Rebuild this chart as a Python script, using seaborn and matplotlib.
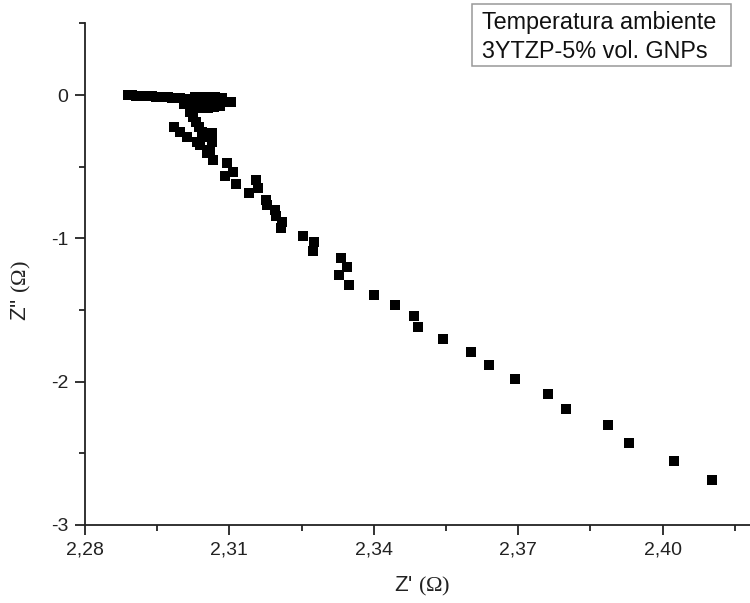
import matplotlib
matplotlib.use("Agg")
import matplotlib.pyplot as plt
import seaborn as sns
import pandas as pd
from matplotlib.patches import Rectangle

# ---- data ----
z_real = [
    # dense band near Z''=0
    2.2889, 2.2898, 2.2906, 2.2914, 2.2922, 2.2931, 2.2939, 2.2947, 2.2956, 2.2964,
    2.2972, 2.2981, 2.2989, 2.2997, 2.3006, 2.3014, 2.3022, 2.3030, 2.3039, 2.3047,
    2.3055, 2.3064, 2.3072, 2.3080, 2.3089, 2.3097, 2.3103,
    2.3028, 2.3049, 2.3070, 2.3084,
    2.3006, 2.3018, 2.3030, 2.3043, 2.3055, 2.3068, 2.3080,
    # column going down
    2.3018, 2.3024, 2.3030, 2.3037, 2.3043, 2.3049, 2.3039,
    2.2985, 2.2997, 2.3012, 2.3033,
    2.3064, 2.3064, 2.3059,
    # descending arm
    2.3053, 2.3066, 2.3094, 2.3108, 2.3091, 2.3113, 2.3156, 2.3160, 2.3140, 2.3176,
    2.3178, 2.3194, 2.3197, 2.3210, 2.3208, 2.3253, 2.3276, 2.3273,
    2.3331, 2.3345, 2.3328, 2.3348, 2.3401, 2.3443, 2.3483, 2.3491, 2.3544, 2.3601,
    2.3639, 2.3693, 2.3761, 2.3799, 2.3887, 2.3929, 2.4023, 2.4102,
]
z_imag = [
    0.0000, 0.0000, -0.0035, -0.0035, -0.0070, -0.0070, -0.0070, -0.0105, -0.0105, -0.0140,
    -0.0140, -0.0174, -0.0209, -0.0209, -0.0244, -0.0279, -0.0279, -0.0314, -0.0349, -0.0349,
    -0.0384, -0.0419, -0.0419, -0.0454, -0.0488, -0.0488, -0.0509,
    -0.0140, -0.0140, -0.0140, -0.0209,
    -0.0628, -0.0768, -0.0837, -0.0907, -0.0907, -0.0837, -0.0768,
    -0.1186, -0.1535, -0.1884, -0.2233, -0.2582, -0.2931, -0.3489,
    -0.2233, -0.2582, -0.2931, -0.3280,
    -0.2652, -0.3280, -0.3838,
    -0.4026, -0.4536, -0.4766, -0.5352, -0.5652, -0.6210, -0.5931, -0.6511, -0.6859, -0.7327,
    -0.7676, -0.8025, -0.8443, -0.8841, -0.9302, -0.9839, -1.0258, -1.0865,
    -1.1395, -1.1981, -1.2581, -1.3279, -1.3956, -1.4675, -1.5421, -1.6210, -1.7026, -1.7912,
    -1.8841, -1.9818, -2.0843, -2.1932, -2.3048, -2.4283, -2.5519, -2.6865,
]

x_ticks = [2.28, 2.31, 2.34, 2.37, 2.40]
x_tick_labels = ["2,28", "2,31", "2,34", "2,37", "2,40"]
x_minor = [2.295, 2.325, 2.355, 2.385, 2.415]
y_ticks = [0, -1, -2, -3]
y_tick_labels = ["0", "-1", "-2", "-3"]
y_minor = [0.5, -0.5, -1.5, -2.5]
legend_lines = ["Temperatura ambiente", "3YTZP-5% vol. GNPs"]

# ---- style ----
sns.set_style("ticks")
plt.rcParams["font.family"] = ["Liberation Sans", "DejaVu Sans"]
plt.rcParams["mathtext.fontset"] = "custom"
plt.rcParams["mathtext.rm"] = "Liberation Serif"
plt.rcParams["mathtext.it"] = "Liberation Serif:italic"

df = pd.DataFrame({"zr": z_real, "zi": z_imag})

fig = plt.figure(figsize=(7.5, 6.03), dpi=100)
ax = fig.add_axes([0.1133, 0.1294, 0.8987, 0.8318])
sns.scatterplot(data=df, x="zr", y="zi", marker="s", s=62, color="black",
                linewidth=0, ax=ax, legend=False)

ax.set_xlim(2.28, 2.42)
ax.set_ylim(-3, 0.5)
ax.set_xticks(x_ticks)
ax.set_xticklabels(x_tick_labels)
ax.set_xticks(x_minor, minor=True)
ax.set_yticks(y_ticks)
ax.set_yticklabels(y_tick_labels)
ax.set_yticks(y_minor, minor=True)

for s in ["top", "right"]:
    ax.spines[s].set_visible(False)
for s in ["left", "bottom"]:
    ax.spines[s].set_color("#222222")
    ax.spines[s].set_linewidth(1.3)

ax.tick_params(axis="both", which="major", direction="out", length=7, width=1.3,
               color="#222222", labelsize=14, labelcolor="#222222", pad=5)
ax.tick_params(axis="both", which="minor", direction="out", length=4, width=1.3,
               color="#222222")

ax.set_xlabel(r"Z' $(\Omega)$", fontsize=16, color="#222222")
ax.set_ylabel(r"Z'' $(\Omega)$", fontsize=16, color="#222222")
ax.xaxis.set_label_coords(0.5, -0.099)
ax.yaxis.set_label_coords(-0.077, 0.4665)

# legend-style text box
fig.add_artist(Rectangle((472 / 750, 1 - 66 / 603), 259 / 750, 62 / 603,
                         transform=fig.transFigure, fill=False,
                         edgecolor="#999999", linewidth=1.1))
fig.text(482 / 750, 1 - 22 / 603, legend_lines[0], fontsize=16.8, color="#111111",
         va="center", ha="left")
fig.text(482 / 750, 1 - 52 / 603, legend_lines[1], fontsize=16.8, color="#111111",
         va="center", ha="left")

fig.savefig("out.png", dpi=100)
